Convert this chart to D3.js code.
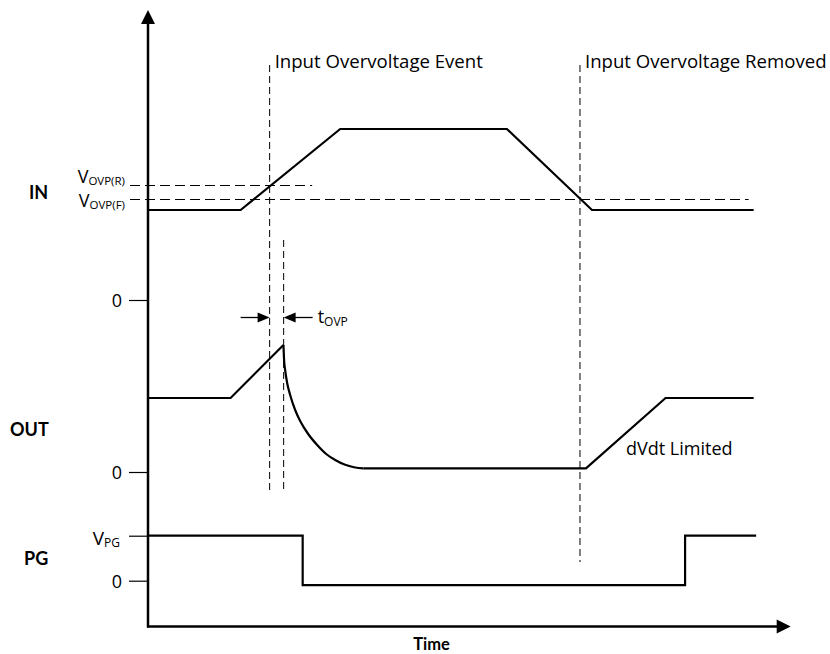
<!DOCTYPE html>
<html><head><meta charset="utf-8">
<script src="https://cdn.jsdelivr.net/npm/d3@7/dist/d3.min.js"></script>
<style>
body{margin:0;background:#fff}
svg text{font-family:"Open Sans",Lato,sans-serif;fill:#000}
svg text.bold{font-family:Lato,"Open Sans",sans-serif;font-weight:bold}
</style>
</head><body><svg id="c" width="830" height="654"></svg>
<script>
// ---- data (time in arbitrary units, voltages in arbitrary units) ----
const timeDomain = [0, 128.4];
// IN waveform
const inT = [0, 18.5, 38.4, 71.7, 88.7, 121];
const inV = [18, 18, 34.2, 34.2, 18, 18];
const vovpLevels = [22.9, 20.1];           // V_OVP(R), V_OVP(F)
const vovpNames = ["OVP(R)", "OVP(F)"];
const vovpEndT = [32.8, 120];
// OUT waveform: linear rise, decay after OVP trip, dVdt limited ramp
const outRiseT = [0, 16.5, 27.06];
const outRiseV = [14.8, 14.8, 25.4];
const outDecayT = [27.06, 27.2, 27.4, 27.8, 28.4, 29.4, 30.4, 32.0, 33.8, 35.6, 37.4, 39.4, 41.4, 43.0];
const outDecayV = [25.4, 22.2, 20.4, 17.8, 15.4, 12.4, 10.2, 7.6, 5.4, 3.6, 2.4, 1.44, 0.9, 0.74];
const outTailT = [43.0, 87.5, 103.4, 121];
const outTailV = [0.74, 0.74, 14.8, 14.8];
// PG waveform
const pgT = [0, 30.9, 30.9, 107.3, 107.3, 121.5];
const pgV = [9, 9, -0.9, -0.9, 9, 9];
const vpgLevel = 9;
// event markers
const eventT = [24.3, 27.1, 86.3];
const eventLabels = ["Input Overvoltage Event", "", "Input Overvoltage Removed"];
const signalNames = ["IN", "OUT", "PG"];

// ---- layout ----
const svg = d3.select("#c");
const axX = 148, axBottom = 626.5, axTop = 10, axRight = 790.7;
const x = d3.scaleLinear().domain(timeDomain).range([axX, axRight]);
const yIn = d3.scaleLinear().domain([0, 40]).range([300, 100]);
const yOut = d3.scaleLinear().domain([0, 30]).range([472, 322]);
const yPg = d3.scaleLinear().domain([0, 10]).range([580.7, 530.7]);

const black = "#000";

// event dashed lines (extents in px)
const eventExt = [[65, 492], [240, 492], [65, 562]];
eventT.forEach((t, i) => {
  svg.append("line")
    .attr("x1", x(t)).attr("x2", x(t))
    .attr("y1", eventExt[i][0]).attr("y2", eventExt[i][1])
    .attr("stroke", black).attr("stroke-width", 1)
    .attr("stroke-dasharray", "7,4");
  if (eventLabels[i]) {
    svg.append("text").attr("x", x(t) + 5).attr("y", 68)
      .attr("font-size", 18.6).text(eventLabels[i]);
  }
});

// V_OVP dashed thresholds
const vovpBase = [183, 207];
vovpLevels.forEach((v, i) => {
  svg.append("line")
    .attr("x1", 130).attr("x2", x(vovpEndT[i]))
    .attr("y1", yIn(v)).attr("y2", yIn(v))
    .attr("stroke", black).attr("stroke-width", 1)
    .attr("stroke-dasharray", "10,5");
  const tx = svg.append("text").attr("x", 125).attr("y", vovpBase[i])
    .attr("text-anchor", "end").attr("font-size", 18);
  tx.append("tspan").text("V");
  tx.append("tspan").attr("font-size", 11.5).attr("dy", 2).text(vovpNames[i]);
});

// zero ticks via axes
function zeroAxis(scale) {
  const g = svg.append("g").attr("transform", `translate(${axX},0)`)
    .call(d3.axisLeft(scale).tickValues([0]).tickSize(19).tickPadding(7).tickFormat(d3.format("d")));
  g.select(".domain").remove();
  g.selectAll("line").attr("stroke", black).attr("stroke-width", 1.2);
  g.selectAll("text").attr("font-size", 18).attr("font-family", "Open Sans").attr("fill", black).attr("dy", "0.36em");
  return g;
}
zeroAxis(yIn); zeroAxis(yOut); zeroAxis(yPg);
// V_PG tick
const gv = svg.append("g").attr("transform", `translate(${axX},0)`)
  .call(d3.axisLeft(yPg).tickValues([vpgLevel]).tickSize(19).tickFormat(""));
gv.select(".domain").remove();
gv.selectAll("line").attr("stroke", black).attr("stroke-width", 1.2);
const vpgT = svg.append("text").attr("x", 120).attr("y", yPg(vpgLevel) + 9.5)
  .attr("text-anchor", "end").attr("font-size", 19);
vpgT.append("tspan").text("V");
vpgT.append("tspan").attr("font-size", 12).attr("dy", 2).text("PG");

// signal names
const nameY = [199, 436, 565], nameX = [29, 10, 24];
signalNames.forEach((n, i) => {
  svg.append("text").attr("class", "bold").attr("x", nameX[i]).attr("y", nameY[i])
    .attr("font-size", 18).text(n);
});

// waveforms
function wave(T, V, yS, curve) {
  const pts = T.map((t, i) => [t, V[i]]);
  svg.append("path")
    .attr("d", d3.line().x(d => x(d[0])).y(d => yS(d[1])).curve(curve || d3.curveLinear)(pts))
    .attr("fill", "none").attr("stroke", black).attr("stroke-width", 2.2)
    .attr("stroke-linejoin", "miter");
}
wave(inT, inV, yIn);
wave(outRiseT, outRiseV, yOut);
wave(outDecayT, outDecayV, yOut, d3.curveMonotoneX);
wave(outTailT, outTailV, yOut);
wave(pgT, pgV, yPg);

// dVdt label
svg.append("text").attr("x", 626).attr("y", 455).attr("font-size", 18).text("dVdt Limited");

// t_OVP arrows
const ay = 317.5;
const xa = x(eventT[0]), xb = x(eventT[1]);
svg.append("line").attr("x1", xa - 29).attr("x2", xa - 11).attr("y1", ay).attr("y2", ay)
  .attr("stroke", black).attr("stroke-width", 1.3);
svg.append("path").attr("d", `M${xa},${ay} L${xa - 12},${ay - 5} L${xa - 12},${ay + 5} Z`).attr("fill", black);
svg.append("line").attr("x1", xb + 11).attr("x2", xb + 29).attr("y1", ay).attr("y2", ay)
  .attr("stroke", black).attr("stroke-width", 1.3);
svg.append("path").attr("d", `M${xb},${ay} L${xb + 12},${ay - 5} L${xb + 12},${ay + 5} Z`).attr("fill", black);
const tt = svg.append("text").attr("x", xb + 34).attr("y", ay + 5.5).attr("font-size", 18);
tt.append("tspan").text("t");
tt.append("tspan").attr("font-size", 12).attr("dy", 3).text("OVP");

// axes with arrowheads
svg.append("line").attr("x1", axX).attr("x2", axX).attr("y1", axBottom + 1).attr("y2", axTop + 12)
  .attr("stroke", black).attr("stroke-width", 2.5);
svg.append("path").attr("d", `M${axX},${axTop} L${axX - 7},${axTop + 14} L${axX + 7},${axTop + 14} Z`).attr("fill", black);
svg.append("line").attr("x1", axX - 1).attr("x2", axRight - 12).attr("y1", axBottom).attr("y2", axBottom)
  .attr("stroke", black).attr("stroke-width", 2.5);
svg.append("path").attr("d", `M${axRight},${axBottom} L${axRight - 14},${axBottom - 7} L${axRight - 14},${axBottom + 7} Z`).attr("fill", black);

svg.append("text").attr("class", "bold").attr("x", 431.5).attr("y", 650).attr("text-anchor", "middle")
  .attr("font-size", 16.5).text("Time");
</script>
</body></html>
